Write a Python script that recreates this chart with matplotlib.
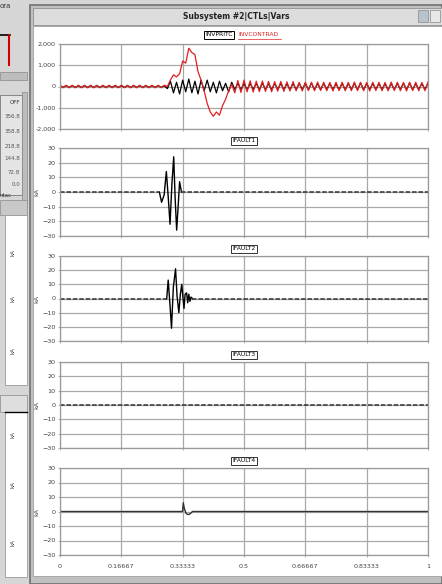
import numpy as np
import matplotlib.pyplot as plt
from matplotlib.patches import Rectangle

W, H = 442, 584

# panel 1 : INVPRITC / INVCONTRAD, one sample every half cycle (1/120 s)
t_half = np.arange(121) / 120.0
invpritc = [40, -40] * 17 + [40] + \
    [-100, 250, -300, 200, -350, 300, -250, 350, -300, 250, -350,
     300, -200, 300, -250, 200, -300, 250, -200, 150, -250, 200] + \
    [-150, 160, -150, 140, -160, 150, -140, 150, -150, 160, -150, 140, -150, 150, -140, 150,
     -150, 140, -160, 150, -150, 150, -140, 150, -150, 160, -150, 140, -150, 150, -140, 150,
     -150, 140, -160, 150, -150, 150, -140, 150, -150, 160, -150, 140, -150, 150, -140, 150,
     -150, 140, -160, 150, -150, 150, -140, 150, -150, 160, -150, 140, -150, 150, -140, 150]
invcontrad = [60, -60] * 17 + [60] + \
    [0, 300, 550, 450, 600, 1200, 1100, 1800, 1600, 1500, 700,
     300, -200, -800, -1200, -1400, -1200, -1350, -900, -600, -200, 100] + \
    [-300, 280, -280, 300, -250, 270, -260, 250, -240, 260, -230, 240, -250, 230, -220, 240,
     -230, 220, -210, 230, -200, 190, -210, 200, -190, 200, -200, 210, -190, 200, -200, 190,
     -210, 200, -190, 200, -200, 190, -200, 210, -190, 200, -200, 190, -210, 200, -190, 200,
     -200, 190, -200, 210, -190, 200, -200, 190, -210, 200, -190, 200, -200, 190, -200, 210]

# fault currents (kA)
f1_t = [0.0, 0.270, 0.276, 0.283, 0.289, 0.294, 0.299, 0.304, 0.309, 0.313, 0.317, 0.321, 0.325, 0.330, 1.0]
f1_v = [0, 0, -7, -2, 14, -3, -22, 5, 24, -5, -26, -10, 7, 0, 0]
f2_t = [0.0, 0.290, 0.294, 0.299, 0.303, 0.308, 0.314, 0.318, 0.323, 0.327, 0.331, 0.334,
        0.337, 0.340, 0.344, 0.347, 0.350, 0.353, 0.356, 0.360, 1.0]
f2_v = [0, 0, 13, -5, -21, 8, 21, 2, -10, 3, 10, 1, -7, 3, 4, -3, 3, -2, 1, 0, 0]
f3_t = [0.0, 1.0]
f3_v = [0, 0]
f4_t = [0.0, 0.333, 0.335, 0.338, 0.342, 0.346, 0.351, 0.356, 0.360, 1.0]
f4_v = [0, 0, 6, 2, -1, -2, -2, -1, 0, 0]

xticks = [0, 1/6, 2/6, 0.5, 4/6, 5/6, 1]
xlabels = ['0', '0.16667', '0.33333', '0.5', '0.66667', '0.83333', '1']
yt1 = [-2000, -1000, 0, 1000, 2000]
yl1 = ['-2,000', '-1,000', '0', '1,000', '2,000']
ytk = [-30, -20, -10, 0, 10, 20, 30]
titles = ['IFAULT1', 'IFAULT2', 'IFAULT3', 'IFAULT4']

fig = plt.figure(figsize=(W / 100, H / 100), dpi=100)
fig.patch.set_facecolor('#d6d6d6')


def rect(x, y, w, h, fc, ec='none', lw=0.8):
    fig.patches.append(Rectangle((x / W, 1 - (y + h) / H), w / W, h / H, transform=fig.transFigure,
                                 facecolor=fc, edgecolor=ec, lw=lw, zorder=-10))


def ftext(x, y, s, **kw):
    fig.text(x / W, 1 - y / H, s, **kw)


# main window
rect(30, 5, 412, 579, '#c0c0c0', '#707070', 1.2)
rect(33, 8, 409, 17, '#dcdcdc', '#909090', 0.6)
rect(33, 26, 409, 550, 'white', '#a0a0a0', 0.6)
ftext(236, 16.5, 'Subsystem #2|CTLs|Vars', fontsize=5.5, fontweight='bold', ha='center', va='center', color='#222')
rect(418, 10, 10, 12, '#b8c4cc', '#888', 0.5)
rect(430, 10, 10, 12, '#e8e8e8', '#888', 0.5)

# left fragments of other windows
ftext(0, 6, 'ora', fontsize=5, va='center', color='#333')
fig.add_artist(plt.Line2D([0, 10 / W], [1 - 35 / H] * 2, color='black', lw=1.2))
fig.add_artist(plt.Line2D([9 / W] * 2, [1 - 35 / H, 1 - 65 / H], color='#d00000', lw=1.5))
rect(0, 72, 27, 8, '#bdbdbd', '#888', 0.5)
rect(0, 95, 22, 100, '#e4e4e4', '#777', 0.6)
ftext(20, 102, 'OFF', fontsize=4, ha='right', va='center', color='#333')
for yy, s in zip([116, 131, 146, 159, 172, 185], ['356.8', '358.8', '218.8', '144.8', '72.8', '0.0']):
    ftext(20, yy, s, fontsize=4, ha='right', va='center', color='#555')
ftext(0, 195, 'ntac', fontsize=4, va='center', color='#333')
rect(22, 92, 5, 115, '#bcbcbc', '#888', 0.5)
rect(0, 200, 27, 15, '#c8c8c8', '#888', 0.5)
rect(5, 215, 22, 170, 'white', '#999', 0.6)
rect(0, 395, 27, 17, '#dedede', '#888', 0.5)
rect(5, 412, 22, 165, 'white', '#999', 0.6)
fig.add_artist(plt.Line2D([5 / W, 27 / W], [1 - 412 / H] * 2, color='black', lw=1.0))
for yy in [253, 298, 350, 435, 485, 543]:
    ftext(13, yy, 'kA', fontsize=4, rotation=90, ha='center', va='center', color='#444')

# plot panels (pixel top, pixel bottom)
panels = [(44, 129), (148, 236), (256, 341), (362, 448), (468, 555)]
axes = []
for top, bot in panels:
    ax = fig.add_axes([60 / W, 1 - bot / H, 368 / W, (bot - top) / H])
    ax.set_zorder(5)
    ax.set_xlim(0, 1)
    ax.set_xticks(xticks)
    ax.grid(True, color='#a8a8a8', lw=0.9)
    for sp in ax.spines.values():
        sp.set_color('#999999')
        sp.set_linewidth(0.9)
    ax.tick_params(length=1.5, width=0.5, color='#888', labelsize=4.6, labelcolor='#444', pad=1.5)
    ax.set_xticklabels([])
    axes.append(ax)

ax = axes[0]
ax.plot(t_half, invpritc, color='black', lw=0.9)
ax.plot(t_half, invcontrad, color='#e02020', lw=0.9)
ax.set_ylim(-2000, 2000)
ax.set_yticks(yt1)
ax.set_yticklabels(yl1)
ax.text(0.47, 1.11, 'INVPRITC', transform=ax.transAxes, fontsize=4.3, ha='right', va='center',
        bbox=dict(boxstyle='square,pad=0.25', fc='white', ec='black', lw=0.7))
ax.text(0.485, 1.11, 'INVCONTRAD', transform=ax.transAxes, fontsize=4.3, ha='left', va='center', color='#e02020')
ax.plot([0.485, 0.6], [1.06, 1.06], transform=ax.transAxes, color='#e02020', lw=0.5, clip_on=False)

series = [(f1_t, f1_v, 1), (f2_t, f2_v, 1), (f3_t, f3_v, 0), (f4_t, f4_v, 0)]
for i, (ax, (tt, vv, dashed)) in enumerate(zip(axes[1:], series)):
    if dashed:
        ax.plot(tt[:2], vv[:2], color='#333', lw=1.1, ls=(0, (3, 1.2)))
        ax.plot(tt[1:-1], vv[1:-1], color='black', lw=1.0)
        ax.plot(tt[-2:], vv[-2:], color='#333', lw=1.1, ls=(0, (3, 1.2)))
    elif i == 2:
        ax.plot(tt, vv, color='#333', lw=1.1, ls=(0, (3, 1.2)))
    else:
        ax.plot(tt, vv, color='#333', lw=1.0)
    ax.set_ylim(-30, 30)
    ax.set_yticks(ytk)
    ax.set_ylabel('kA', fontsize=4.6, color='#444', labelpad=2)
    ax.text(0.5, 1.085, titles[i], transform=ax.transAxes, fontsize=4.3, ha='center', va='center',
            bbox=dict(boxstyle='square,pad=0.25', fc='white', ec='#333', lw=0.7))

axes[-1].set_xticklabels(xlabels)
axes[-1].tick_params(axis='x', pad=5)

fig.savefig('out.png', dpi=100, facecolor=fig.get_facecolor())
